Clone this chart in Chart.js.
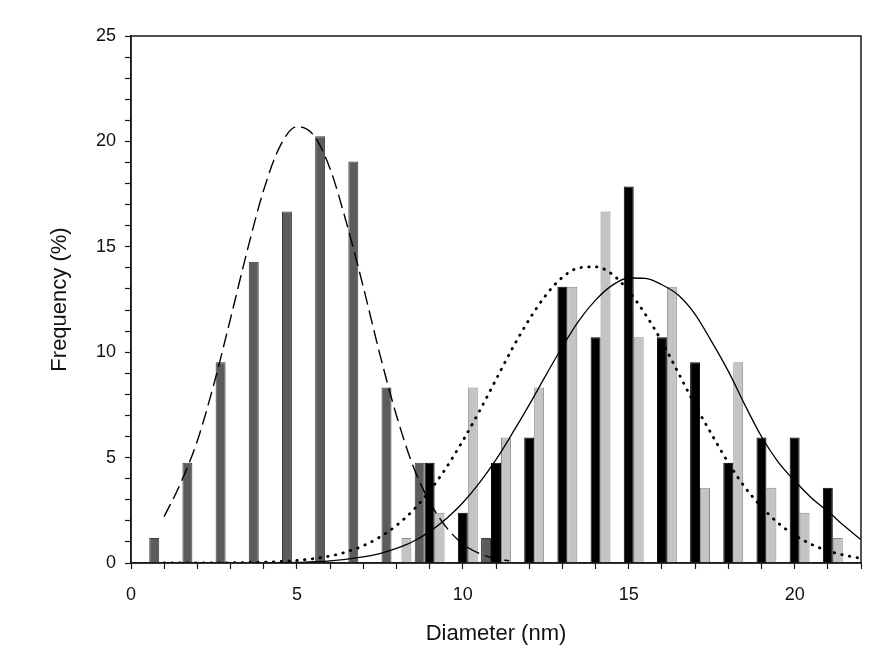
<!DOCTYPE html>
<html>
<head>
<meta charset="utf-8">
<script src="https://cdn.jsdelivr.net/npm/chart.js@4.4.0/dist/chart.umd.min.js"></script>
<style>
    html, body { margin: 0; padding: 0; background: #ffffff; }
    #sizeChart { display: block; }
</style>
</head>
<body>
<canvas id="sizeChart" width="872" height="670"></canvas>
<script>
// bar data: diameter bin (nm) and frequency (%)
const darkBins = [1, 2, 3, 4, 5, 6, 7, 8, 9, 11];
const darkVals = [1.19, 4.76, 9.52, 14.29, 16.67, 20.24, 19.05, 8.33, 4.76, 1.19];

const blackBins = [9, 10, 11, 12, 13, 14, 15, 16, 17, 18, 19, 20, 21];
const blackVals = [4.76, 2.38, 4.76, 5.95, 13.10, 10.71, 17.86, 10.71, 9.52, 4.76, 5.95, 5.95, 3.57];

const lightBins = [8, 9, 10, 11, 12, 13, 14, 15, 16, 17, 18, 19, 20, 21];
const lightVals = [1.19, 2.38, 8.33, 5.95, 8.33, 13.10, 16.67, 10.71, 13.10, 3.57, 9.52, 3.57, 2.38, 1.19];

// fitted curves
const dashX = [1, 1.5, 2, 2.5, 3, 3.5, 4, 4.5, 5, 5.5, 6, 6.5, 7, 7.5, 8, 8.5, 9, 9.5, 10, 10.5, 11, 11.4];
const dashY = [2.2, 3.8, 5.8, 8.5, 11.6, 14.8, 17.7, 19.8, 20.7, 20.3, 18.7, 16.1, 13.1, 9.9, 7.0, 4.6, 2.9, 1.7, 0.9, 0.45, 0.2, 0.1];

const dotX = [1, 2, 3, 4, 5, 6, 6.5, 7, 7.5, 8, 8.5, 9, 9.5, 10, 10.5, 11, 11.5, 12, 12.5, 13, 13.5, 14, 14.5, 15, 15.5, 16, 16.5, 17, 17.5, 18, 18.5, 19, 19.5, 20, 20.5, 21, 21.5, 22];
const dotY = [0, 0, 0.01, 0.04, 0.12, 0.33, 0.53, 0.82, 1.23, 1.78, 2.5, 3.42, 4.52, 5.8, 7.2, 8.7, 10.2, 11.55, 12.7, 13.55, 14.0, 14.05, 13.7, 12.9, 11.8, 10.5, 9.0, 7.5, 6.1, 4.76, 3.6, 2.67, 1.9, 1.32, 0.89, 0.58, 0.37, 0.22];

const solidX = [4, 5, 6, 7, 7.5, 8, 8.5, 9, 9.5, 10, 10.5, 11, 11.5, 12, 12.5, 13, 13.5, 14, 14.5, 15, 15.5, 16, 16.5, 17, 17.5, 18, 18.5, 19, 19.5, 20, 20.5, 21, 21.5, 22];
const solidY = [0.01, 0.03, 0.1, 0.29, 0.45, 0.69, 1.02, 1.49, 2.1, 2.86, 3.8, 4.9, 6.17, 7.5, 8.9, 10.26, 11.5, 12.47, 13.17, 13.52, 13.5, 13.2, 12.7, 11.8, 10.5, 9.1, 7.5, 6.0, 4.8, 3.9, 3.1, 2.45, 1.75, 1.1];

const xTicksMax = 22;
const yTicksMax = 25;

const fontFamily = "'Liberation Sans', Arial, sans-serif";
const inkColor = '#1a1a1a';

function toPoints(xs, ys) {
    return xs.map((x, i) => ({ x: x, y: ys[i] }));
}

// box around the plot area
const frameBox = {
    id: 'frameBox',
    afterDraw(chart) {
        const { ctx, chartArea: a } = chart;
        ctx.save();
        ctx.strokeStyle = inkColor;
        ctx.lineWidth = 1.5;
        ctx.strokeRect(a.left, a.top, a.right - a.left, a.bottom - a.top);
        ctx.restore();
    }
};

const ctx = document.getElementById('sizeChart');

const sizeChart = new Chart(ctx, {
    type: 'bar',
    data: {
        datasets: [
            {
                type: 'line',
                label: 'fit A',
                data: toPoints(dashX, dashY),
                borderColor: '#000000',
                borderWidth: 1.4,
                borderDash: [14, 6],
                pointRadius: 0,
                cubicInterpolationMode: 'monotone',
                order: 0
            },
            {
                type: 'line',
                label: 'fit B',
                data: toPoints(dotX, dotY),
                borderColor: '#000000',
                borderWidth: 2.8,
                borderDash: [0.5, 7.3],
                borderCapStyle: 'round',
                pointRadius: 0,
                cubicInterpolationMode: 'monotone',
                order: 0
            },
            {
                type: 'line',
                label: 'fit C',
                data: toPoints(solidX, solidY),
                borderColor: '#000000',
                borderWidth: 1.3,
                pointRadius: 0,
                cubicInterpolationMode: 'monotone',
                order: 0
            },
            {
                label: 'A',
                data: toPoints(darkBins, darkVals),
                backgroundColor: '#5c5c5c',
                borderColor: '#3a3a3a',
                borderWidth: 1,
                order: 1
            },
            {
                label: 'C',
                data: toPoints(blackBins, blackVals),
                backgroundColor: '#000000',
                borderColor: '#000000',
                borderWidth: 1,
                order: 1
            },
            {
                label: 'B',
                data: toPoints(lightBins, lightVals),
                backgroundColor: '#c4c4c4',
                borderColor: '#8a8a8a',
                borderWidth: 1,
                order: 1
            }
        ]
    },
    options: {
        responsive: false,
        animation: false,
        categoryPercentage: 0.9,
        barPercentage: 1.0,
        layout: {
            padding: { top: 36, right: 11, bottom: 0, left: 0 }
        },
        plugins: {
            legend: { display: false },
            tooltip: { enabled: false }
        },
        scales: {
            x: {
                type: 'linear',
                min: 0,
                max: xTicksMax,
                offset: false,
                afterFit(scale) {
                    scale.height = 107;
                    scale.paddingLeft = 0;
                    scale.paddingRight = 0;
                },
                border: { display: true, color: inkColor, width: 1.5 },
                grid: {
                    offset: false,
                    drawOnChartArea: false,
                    drawTicks: true,
                    tickLength: 6,
                    tickWidth: 1.2,
                    color: inkColor
                },
                ticks: {
                    stepSize: 1,
                    autoSkip: false,
                    maxRotation: 0,
                    padding: 15,
                    color: '#111111',
                    font: { family: fontFamily, size: 18 },
                    callback: (v) => (v % 5 === 0 ? v : '')
                },
                title: {
                    display: true,
                    text: 'Diameter (nm)',
                    color: '#111111',
                    font: { family: fontFamily, size: 22 },
                    padding: { top: 0, bottom: 23 }
                }
            },
            y: {
                min: 0,
                max: yTicksMax,
                afterFit(scale) { scale.width = 131; },
                border: { display: true, color: inkColor, width: 1.5 },
                grid: {
                    drawOnChartArea: false,
                    drawTicks: true,
                    tickLength: 6,
                    tickWidth: 1.2,
                    color: inkColor
                },
                ticks: {
                    stepSize: 1,
                    autoSkip: false,
                    padding: 9,
                    color: '#111111',
                    font: { family: fontFamily, size: 18 },
                    callback: (v) => (v % 5 === 0 ? v : '')
                },
                title: {
                    display: true,
                    text: 'Frequency (%)',
                    color: '#111111',
                    font: { family: fontFamily, size: 22 },
                    padding: { top: 47, bottom: 0 }
                }
            }
        }
    },
    plugins: [frameBox]
});
</script>
</body>
</html>
